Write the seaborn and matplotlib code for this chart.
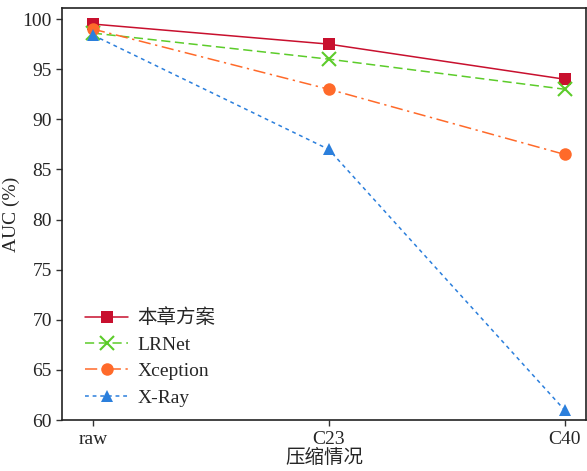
import matplotlib
matplotlib.use("Agg")
import matplotlib.pyplot as plt
import pandas as pd
import seaborn as sns

# data
stages = ["raw", "C23", "C40"]
ours = [99.5, 97.5, 94.0]
lrnet = [98.6, 96.0, 93.0]
xception = [99.0, 93.0, 86.5]
xray = [98.4, 87.0, 61.0]

names = ["本章方案", "LRNet", "Xception", "X-Ray"]
series = [ours, lrnet, xception, xray]
colors = ["#c8102e", "#5ccc2a", "#ff6a2a", "#2b7fdc"]
markers = ["s", "x", "o", "^"]
styles = ["-", (0, (6, 3)), (0, (8, 3, 1.5, 3)), (0, (2.5, 2.5))]
msizes = [9, 10, 9, 9]

sns.set_style("ticks")
plt.rcParams['font.family'] = ['Liberation Serif', 'Noto Sans CJK SC']
plt.rcParams['font.size'] = 14

fig = plt.figure(figsize=(5.87, 4.71), dpi=100)
ax = fig.add_axes([0.106, 0.108, 0.892, 0.875])

for name, vals, c, m, ls, ms in zip(names, series, colors, markers, styles, msizes):
    df = pd.DataFrame({"stage": stages, "auc": vals})
    sns.lineplot(data=df, x="stage", y="auc", ax=ax, color=c, marker=m,
                 linestyle=ls, linewidth=1.1, markersize=ms, sort=False,
                 markeredgecolor=c, markeredgewidth=1.5 if m == "x" else 0,
                 label=name)

ax.set_xlim(-0.13, 2.09)
ax.set_ylim(60, 101.1)
ax.set_yticks([60, 65, 70, 75, 80, 85, 90, 95, 100])
ax.set_xlabel("压缩情况", fontsize=14, labelpad=1)
ax.set_ylabel("AUC (%)", fontsize=14, labelpad=2)
ax.tick_params(labelsize=14, direction="out", length=4, width=1, color="#333333")
for s in ax.spines.values():
    s.set_linewidth(1.2)
    s.set_color("#222222")

ax.legend(loc="lower left", frameon=False, fontsize=14, handlelength=2.2,
          handletextpad=0.5, labelspacing=0.45, borderaxespad=0.3,
          bbox_to_anchor=(0.018, 0.0))

fig.savefig("out.png", dpi=100)
